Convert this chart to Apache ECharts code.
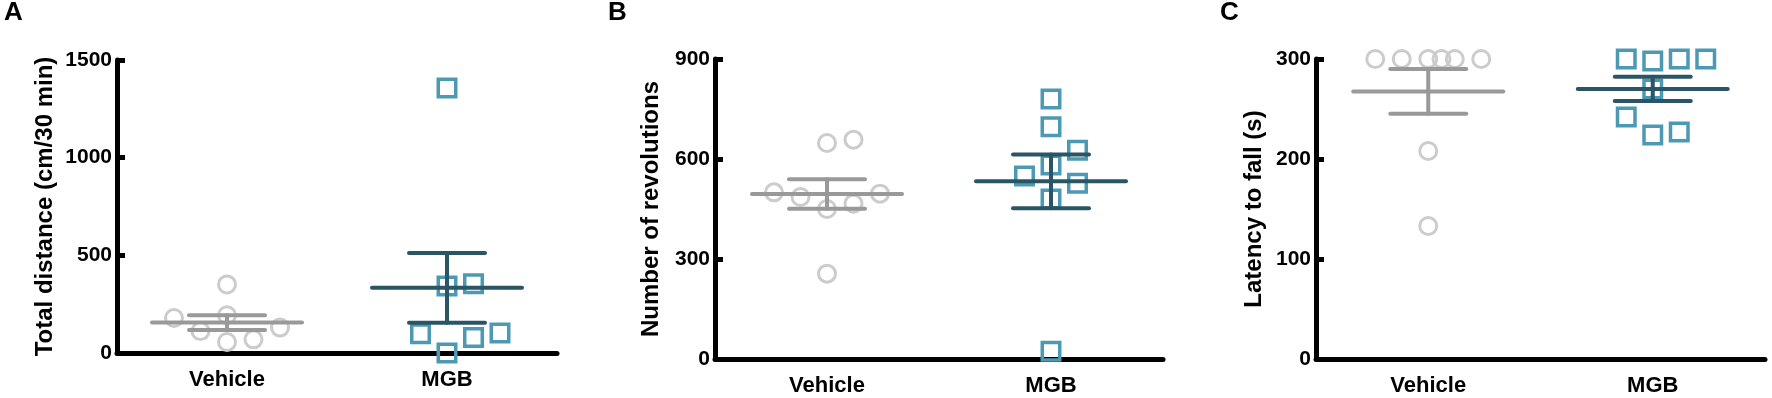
<!DOCTYPE html>
<html>
<head>
<meta charset="utf-8">
<script src="https://cdn.jsdelivr.net/npm/echarts@6/dist/echarts.min.js"></script>
<style>
  html, body { margin: 0; padding: 0; background: #fff; }
  #main { width: 1772px; height: 398px; }
</style>
</head>
<body>
<div id="main"></div>
<script>
// groups on the x axis
var groups = ["Vehicle", "MGB"];

// A: total distance (cm/30 min)
var distVehicle = [351, 179, 193, 112, 130, 56, 70];
var distMGB = [1357, 355, 343, 99, 79, 102, 0];

// B: number of revolutions
var revVehicle = [648, 658, 496, 466, 450, 486, 500, 256];
var revMGB = [780, 697, 626, 582, 527, 549, 480, 23];

// C: latency to fall (s)
var latVehicle = [300, 300, 300, 300, 300, 300, 208, 133];
var latMGB = [300, 298, 300, 300, 270, 242, 224, 227];

// y axis ranges / tick steps
var yMax = [1500, 900, 300];
var yStep = [500, 300, 100];
var yNames = ["Total distance (cm/30 min)", "Number of revolutions", "Latency to fall (s)"];
var letters = ["A", "B", "C"];

var FONT = "'Liberation Sans', Arial, sans-serif";
var vehCircle = "#cccccc", vehLine = "#999999";
var mgbSquare = "#4b99b3", mgbLine = "#2a5566";

var panels = [
  { grid: { left: 117, top: 60, width: 440, height: 293 }, nameGap: 60, letterX: 4, veh: distVehicle, mgb: distMGB },
  { grid: { left: 715, top: 59, width: 448, height: 300 }, nameGap: 52, letterX: 608, veh: revVehicle, mgb: revMGB },
  { grid: { left: 1316, top: 59, width: 449, height: 300 }, nameGap: 50, letterX: 1220, veh: latVehicle, mgb: latMGB }
];

function meanSem(arr) {
  var n = arr.length, m = 0, ss = 0;
  arr.forEach(function (v) { m += v; });
  m = m / n;
  arr.forEach(function (v) { ss += (v - m) * (v - m); });
  return [m, Math.sqrt(ss / (n - 1)) / Math.sqrt(n)];
}

// simple column-scatter spreading, like prism does it
function swarm(values, center, pxPerVal, unitPerPx) {
  var STEP = 26.5, D = 25;
  var cand = [0, 1, -1, 2, -2, 0.5, -0.5, 1.5, -1.5];
  var order = values.map(function (v, i) { return i; });
  order.sort(function (a, b) { return values[a] - values[b]; });
  var placed = [], out = new Array(values.length);
  order.forEach(function (i) {
    var y = values[i] * pxPerVal;
    var slot = cand.find(function (c) {
      return !placed.some(function (p) { return p.s === c && Math.abs(p.y - y) < D; });
    });
    if (slot === undefined) slot = 0;
    placed.push({ s: slot, y: y });
    out[i] = [center + slot * STEP * unitPerPx, values[i]];
  });
  return out;
}

function errRender(color) {
  return function (params, api) {
    var x = api.value(0), m = api.value(1), s = api.value(2);
    var c = api.coord([x, m]);
    var hi = api.coord([x, m + s]);
    var lo = api.coord([x, m - s]);
    var st = { stroke: color, lineWidth: 4, lineCap: "round" };
    return {
      type: "group",
      children: [
        { type: "line", shape: { x1: c[0] - 75, y1: c[1], x2: c[0] + 75, y2: c[1] }, style: st },
        { type: "line", shape: { x1: c[0] - 38, y1: hi[1], x2: c[0] + 38, y2: hi[1] }, style: st },
        { type: "line", shape: { x1: c[0] - 38, y1: lo[1], x2: c[0] + 38, y2: lo[1] }, style: st },
        { type: "line", shape: { x1: c[0], y1: hi[1], x2: c[0], y2: lo[1] }, style: st }
      ]
    };
  };
}

var option = {
  backgroundColor: "#ffffff",
  animation: false,
  title: [],
  grid: [],
  xAxis: [],
  yAxis: [],
  series: []
};

panels.forEach(function (p, k) {
  option.title.push({
    text: letters[k], left: p.letterX, top: 0, padding: 0,
    textStyle: { fontFamily: FONT, fontWeight: "bold", fontSize: 26, color: "#000" }
  });
  option.grid.push(p.grid);
  // visible category axis for the labels
  option.xAxis.push({
    type: "category", gridIndex: k, data: groups, boundaryGap: true,
    axisLine: { lineStyle: { color: "#000", width: 5 } },
    axisTick: { show: false },
    axisLabel: { color: "#000", fontFamily: FONT, fontWeight: "bold", fontSize: 22, margin: 16 }
  });
  // hidden value axis for spread points (categories at 0.5 / 1.5)
  option.xAxis.push({ type: "value", gridIndex: k, min: 0, max: 2, show: false });
  option.yAxis.push({
    type: "value", gridIndex: k, min: 0, max: yMax[k], interval: yStep[k],
    name: yNames[k], nameLocation: "middle", nameGap: p.nameGap,
    nameTextStyle: { color: "#000", fontFamily: FONT, fontWeight: "bold", fontSize: 24 },
    axisLine: { show: true, lineStyle: { color: "#000", width: 5 } },
    axisTick: { show: true, inside: true, length: 8, lineStyle: { color: "#000", width: 5 } },
    axisLabel: {
      color: "#000", fontFamily: FONT, fontWeight: "bold", fontSize: 21, margin: 5,
      formatter: function (v) { return String(v); }
    },
    splitLine: { show: false }
  });

  var pxPerVal = p.grid.height / yMax[k];
  var unitPerPx = 2 / p.grid.width;
  var xi = k * 2 + 1;

  option.series.push({
    type: "scatter", xAxisIndex: xi, yAxisIndex: k, z: 2,
    symbol: "circle", symbolSize: 17,
    itemStyle: { color: "rgba(0,0,0,0)", borderColor: vehCircle, borderWidth: 3, opacity: 1 },
    data: swarm(p.veh, 0.5, pxPerVal, unitPerPx)
  });
  option.series.push({
    type: "scatter", xAxisIndex: xi, yAxisIndex: k, z: 2,
    symbol: "rect", symbolSize: 17.5,
    itemStyle: { color: "rgba(0,0,0,0)", borderColor: mgbSquare, borderWidth: 3.5, opacity: 1 },
    data: swarm(p.mgb, 1.5, pxPerVal, unitPerPx)
  });
  option.series.push({
    type: "custom", xAxisIndex: xi, yAxisIndex: k, z: 5,
    renderItem: errRender(vehLine), encode: { x: 0, y: 1 },
    data: [[0.5].concat(meanSem(p.veh))]
  });
  option.series.push({
    type: "custom", xAxisIndex: xi, yAxisIndex: k, z: 5,
    renderItem: errRender(mgbLine), encode: { x: 0, y: 1 },
    data: [[1.5].concat(meanSem(p.mgb))]
  });
});

var myChart = echarts.init(document.getElementById("main"));
myChart.setOption(option);
</script>
</body>
</html>
